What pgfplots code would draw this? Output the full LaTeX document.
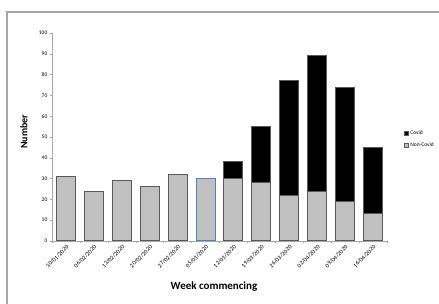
\documentclass[border=0pt]{standalone}
\usepackage{pgfplots}
\pgfplotsset{compat=1.18}
\usepackage{fontspec}
\setmainfont{Carlito}
\definecolor{ncfill}{HTML}{C0C0C0}
\definecolor{ncedge}{HTML}{595959}
\definecolor{bluedge}{HTML}{4F81BD}
\definecolor{axgray}{HTML}{A6A6A6}
\begin{document}
\begin{tikzpicture}[x=1pt,y=1pt]
\useasboundingbox (-52,-63) rectangle (387,241);
\begin{axis}[
  name=main,
  at={(0,0)}, anchor=south west,
  scale only axis, width=335pt, height=208pt,
  ybar, bar shift=0pt, bar width=19pt,
  xmin=-0.5, xmax=11.5, ymin=0, ymax=100,
  axis x line*=bottom, axis y line*=left,
  axis line style={axgray, line width=0.6pt},
  xtick={0,...,11},
  xticklabels={30/01/2020,06/02/2020,13/02/2020,20/02/2020,27/02/2020,05/03/2020,12/03/2020,19/03/2020,26/03/2020,02/04/2020,09/04/2020,16/04/2020},
  major x tick style={draw=none},
  minor xtick={-0.5,0.5,...,11.5},
  minor tick length=2pt,
  minor x tick style={axgray, line width=0.5pt},
  tick align=outside,
  ytick={0,10,...,100},
  major tick length=2pt,
  major y tick style={axgray, line width=0.5pt},
  x tick label style={rotate=45, anchor=north east, font=\fontsize{6}{7}\selectfont, inner sep=1pt},
  y tick label style={font=\fontsize{5.5}{6.5}\selectfont, inner sep=2.5pt},
  /pgf/number format/assume math mode=true,
  xlabel={Week commencing},
  ylabel={Number},
  xlabel style={at={(axis description cs:0.4836,-0.221)}, anchor=center, font=\fontsize{11}{12}\bfseries},
  ylabel style={at={(axis description cs:-0.0836,0.526)}, anchor=center, font=\fontsize{10}{12}\bfseries},
  legend style={at={(axis description cs:1.05,0.49)}, anchor=west, draw=none, fill=none,
    font=\fontsize{5.5}{6.5}\selectfont, row sep=3pt, inner sep=0pt},
  legend cell align=left,
  legend image code/.code={\draw[#1, line width=0.4pt] (0pt,-2pt) rectangle (4pt,2pt);},
  clip=false,
]
% Covid drawn as total (Non-Covid + Covid); Covid counts: 8,27,55,65,55,32
\addplot[fill=black, draw=ncedge, line width=1pt] coordinates {
  (6,38) (7,55) (8,77) (9,89) (10,74) (11,45)};
\addlegendentry{Covid}
\addplot[fill=ncfill, draw=ncedge, line width=1pt] coordinates {
  (0,31) (1,24) (2,29) (3,26) (4,32) (6,30) (7,28) (8,22) (9,24) (10,19) (11,13)};
\addlegendentry{Non-Covid}
\addplot[fill=ncfill, draw=bluedge, line width=1pt, forget plot] coordinates {(5,30)};
\end{axis}
\draw[axgray, line width=1.5pt] (-45,-63) -- (-45,229) -- (387,229);
\end{tikzpicture}
\end{document}
